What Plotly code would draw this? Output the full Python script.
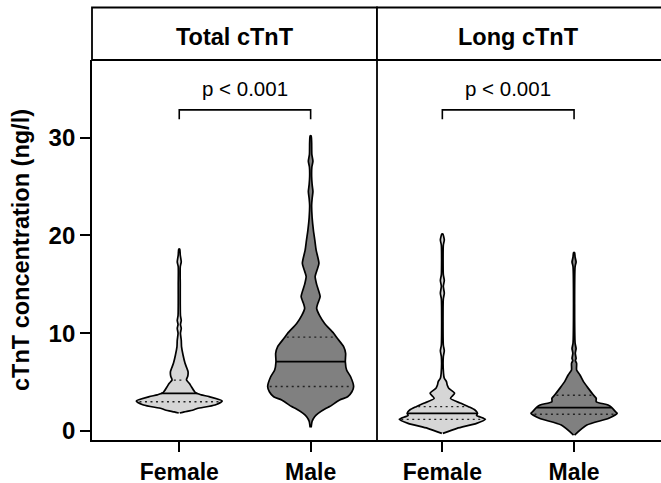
import numpy as np
import plotly.graph_objects as go

# ---------------- data ----------------
panels = ["Total cTnT", "Long cTnT"]
groups = ["Female", "Male"]
p_labels = ["p < 0.001", "p < 0.001"]
y_ticks = [0, 10, 20, 30]

# violin profiles: concentration level (ng/l) and relative density width
total_female_y = [18.6, 18.0, 17.3, 16.8, 15.0, 13.0, 11.8, 11.3, 10.9, 10.5, 10.0, 9.3, 8.6,
                  7.77, 6.92, 6.07, 5.6, 5.22, 4.88, 4.53, 3.92, 3.7, 3.51, 3.07, 2.66, 2.3,
                  2.15, 1.95, 1.84]
total_female_w = [0.5, 1.0, 2.0, 1.0, 1.0, 1.0, 1.2, 2.0, 1.2, 2.0, 1.2, 2.0, 2.3,
                  3.8, 5.8, 8.8, 8.5, 7.2, 10.0, 12.2, 16.2, 22.0, 30.0, 43.0, 35.8, 18.0,
                  14.0, 5.0, 0.5]
total_female_q = [3.0, 3.85, 5.2]

total_male_y = [30.2, 29.5, 28.3, 27.6, 27.0, 26.0, 25.2, 24.5, 23.8, 23.1, 21.8, 20.5, 19.5,
                18.5, 17.15, 16.5, 15.8, 15.0, 13.75, 13.0, 12.55, 11.8, 11.0, 10.0, 9.48,
                8.63, 7.95, 7.09, 6.24, 5.55, 4.53, 4.02, 3.5, 3.17, 2.5, 2.32, 1.8, 1.46,
                1.0, 0.38]
total_male_w = [0.5, 1.0, 1.2, 2.3, 1.2, 1.0, 1.5, 2.3, 1.5, 1.0, 1.5, 2.8, 4.2,
                5.5, 8.3, 6.5, 4.5, 6.0, 9.5, 7.0, 6.0, 9.0, 14.0, 23.0, 26.7,
                33.0, 35.0, 34.7, 36.0, 40.0, 43.0, 41.3, 37.0, 29.0, 19.0, 15.5, 7.5, 4.0,
                1.5, 0.5]
total_male_q = [4.55, 7.09, 9.6]

long_female_y = [20.15, 19.55, 19.0, 16.0, 15.4, 14.8, 14.1, 13.5, 8.8, 8.2, 7.6, 5.9, 5.39,
                 5.05, 4.7, 4.37, 3.86, 3.34, 2.83, 2.49, 2.15, 1.81, 1.6, 1.19, 0.78, 0.27,
                 -0.24]
long_female_w = [0.5, 2.0, 1.0, 1.0, 2.0, 1.0, 2.0, 1.0, 1.0, 2.0, 1.0, 1.2, 2.0,
                 4.2, 5.0, 6.5, 12.5, 8.3, 19.0, 26.7, 33.3, 36.0, 35.0, 44.0, 35.0, 15.0,
                 0.5]
long_female_q = [1.19, 1.81, 2.49]

long_male_y = [18.25, 17.8, 17.3, 16.8, 9.0, 8.45, 7.95, 7.43, 7.2, 6.92, 6.24, 5.73, 5.05,
               4.36, 3.68, 3.34, 3.0, 2.66, 2.39, 1.97, 1.81, 1.3, 0.61, -0.41]
long_male_w = [0.5, 1.0, 2.0, 1.0, 1.0, 2.0, 1.2, 2.0, 1.3, 2.5, 2.5, 5.8, 9.2,
               14.0, 19.0, 21.7, 21.7, 33.3, 37.0, 40.7, 42.2, 34.0, 12.5, 0.5]
long_male_q = [1.72, 2.4, 3.65]

violins = [
    (0, 0, total_female_y, total_female_w, total_female_q),
    (0, 1, total_male_y, total_male_w, total_male_q),
    (1, 0, long_female_y, long_female_w, long_female_q),
    (1, 1, long_male_y, long_male_w, long_male_q),
]

# ---------------- styling ----------------
FONT = "Liberation Sans, Arial, sans-serif"
fills = ["#D6D6D6", "#808080"]
MAX_HALF = 0.327  # half width of the widest part of each violin (x units)
LW = 1.8

W, H = 661, 483
ML, MR, MT, MB = 92, 0, 60, 43
plot_w = W - ML - MR
plot_h = H - MT - MB
split = 285 / plot_w
strip_top = 1 + (MT - 7.5) / plot_h

x_ranges = [[-0.664, 1.505], [-0.496, 1.66]]
y_range = [-0.92, 37.95]

fig = go.Figure()

for panel, gi, ys, ws, qs in violins:
    xa = "x" if panel == 0 else "x2"
    ys = np.asarray(ys, float)
    ws = np.asarray(ws, float)
    hw = ws / ws.max() * MAX_HALF
    order = np.argsort(ys)
    ys_s, hw_s = ys[order], hw[order]
    xs = np.concatenate([gi + hw_s, (gi - hw_s)[::-1]])
    yv = np.concatenate([ys_s, ys_s[::-1]])
    fig.add_trace(go.Scatter(
        x=xs, y=yv, xaxis=xa, yaxis="y", mode="lines",
        line=dict(color="black", width=1.7, shape="spline", smoothing=0.6),
        fill="toself", fillcolor=fills[gi], hoverinfo="skip", showlegend=False))
    for k, q in enumerate(qs):
        w = float(np.interp(q, ys_s, hw_s))
        if k == 1:
            line = dict(color="black", width=1.7)
            w_draw = w
        else:
            line = dict(color="#222222", width=1.4, dash="2px,3.5px")
            w_draw = w - 0.015
        fig.add_trace(go.Scatter(
            x=[gi - w_draw, gi + w_draw], y=[q, q], xaxis=xa, yaxis="y",
            mode="lines", line=line, hoverinfo="skip", showlegend=False))

# significance brackets
bracket_low, bracket_high, p_y = 31.9, 32.85, 35.05
for panel in range(2):
    xa = "x" if panel == 0 else "x2"
    fig.add_trace(go.Scatter(
        x=[0, 0, 1, 1], y=[bracket_low, bracket_high, bracket_high, bracket_low],
        xaxis=xa, yaxis="y", mode="lines", line=dict(color="black", width=1.6),
        hoverinfo="skip", showlegend=False))
    fig.add_annotation(x=0.5, y=p_y, xref=xa, yref="y", text=p_labels[panel],
                       showarrow=False, font=dict(family=FONT, size=20.5, color="black"),
                       xanchor="center", yanchor="middle")

# strips
strip_bounds = [(0, split), (split, 1.05)]
strip_centers = [split / 2, split + 141 / plot_w]
for i, (a, b) in enumerate(strip_bounds):
    fig.add_shape(type="rect", xref="paper", yref="paper", x0=a, x1=b, y0=1, y1=strip_top,
                  line=dict(color="black", width=LW), fillcolor="white", layer="above")
    fig.add_annotation(x=strip_centers[i], y=1 + (MT - 37) / plot_h, xref="paper", yref="paper",
                       text=panels[i], showarrow=False,
                       font=dict(family=FONT, size=23.5, color="black", weight="bold"),
                       xanchor="center", yanchor="middle")

# divider between panels
fig.add_shape(type="line", xref="paper", yref="paper", x0=split, x1=split, y0=0, y1=1,
              line=dict(color="black", width=LW), layer="above")

axis_common = dict(showline=True, linecolor="black", linewidth=LW, ticks="outside",
                   ticklen=10, tickwidth=LW, tickcolor="black", showgrid=False,
                   zeroline=False, tickvals=[0, 1], ticktext=groups, automargin=False,
                   tickfont=dict(family=FONT, size=23, color="black", weight="bold"),
                   fixedrange=True)

fig.update_layout(
    width=W, height=H,
    margin=dict(l=ML, r=MR, t=MT, b=MB, autoexpand=False),
    paper_bgcolor="white", plot_bgcolor="white",
    showlegend=False,
    xaxis=dict(domain=[0, split], range=x_ranges[0], anchor="y", **axis_common),
    xaxis2=dict(domain=[split, 1], range=x_ranges[1], anchor="y", **axis_common),
    yaxis=dict(range=y_range, tickvals=y_ticks, showline=True, linecolor="black",
               linewidth=LW, ticks="outside", ticklen=10, tickwidth=LW, tickcolor="black",
               showgrid=False, zeroline=False, automargin=False,
               tickfont=dict(family=FONT, size=24, color="black", weight="bold"),
               fixedrange=True),
)

fig.add_annotation(x=(21 - ML) / plot_w, y=0.5, xref="paper", yref="paper",
                   text="cTnT concentration (ng/l)", textangle=-90, showarrow=False,
                   font=dict(family=FONT, size=23.5, color="black", weight="bold"),
                   xanchor="center", yanchor="middle")

fig.write_html("out.html")
